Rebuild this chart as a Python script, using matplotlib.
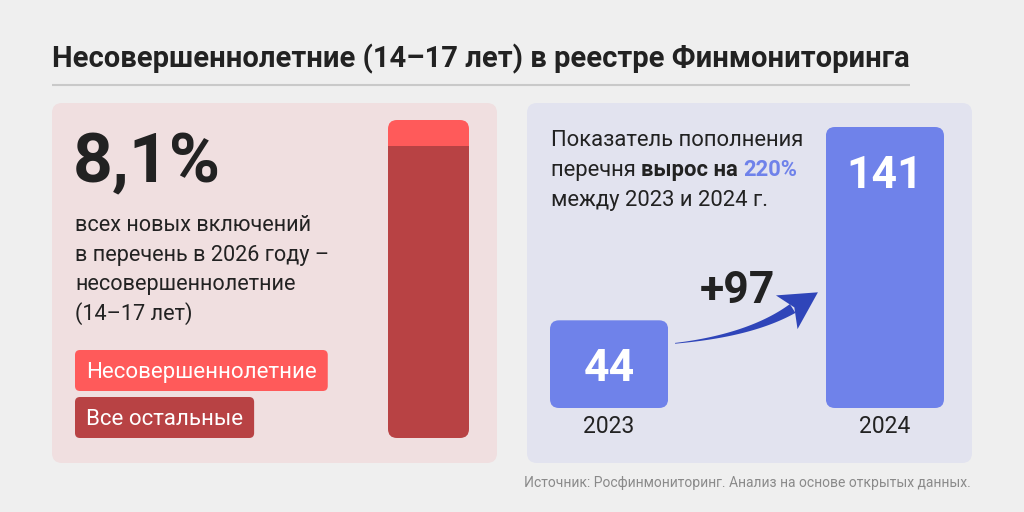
import numpy as np
import matplotlib.pyplot as plt
from matplotlib.patches import FancyBboxPatch, Polygon

plt.rcParams['font.family'] = ['Roboto', 'DejaVu Sans']

# data
title = 'Несовершеннолетние (14–17 лет) в реестре Финмониторинга'
share_labels = ['Несовершеннолетние', 'Все остальные']
share_values = [8.1, 91.9]
share_text = ['всех новых включений', 'в перечень в 2026 году –',
              'несовершеннолетние', '(14–17 лет)']
years = ['2023', '2024']
counts = [44, 141]
growth_pct = 220
source = 'Источник: Росфинмониторинг. Анализ на основе открытых данных.'

BG = '#efefef'
PINK_BG = '#f0dfe0'
BLUE_BG = '#e2e3ef'
RED_LIGHT = '#ff5a5a'
RED_DARK = '#b84244'
BLUE = '#6f82ea'
ARROW = '#2f45b9'
INK = '#222222'

W, H = 1024, 512
fig = plt.figure(figsize=(W / 100, H / 100), dpi=100, facecolor=BG)
ax = fig.add_axes([0, 0, 1, 1])
ax.set_xlim(0, W)
ax.set_ylim(H, 0)
ax.axis('off')
renderer = fig.canvas.get_renderer()


def px_axes(x0, y0, x1, y1):
    a = fig.add_axes([x0 / W, 1 - y1 / H, (x1 - x0) / W, (y1 - y0) / H])
    a.axis('off')
    return a


def rounded(a, x, y, w, h, r_px, **kw):
    # rounded box in data units of axes a, radius given in pixels
    bb = a.get_window_extent(renderer)
    x0, x1 = a.get_xlim()
    y0, y1 = a.get_ylim()
    ux = (x1 - x0) / bb.width
    uy = (y1 - y0) / bb.height
    return FancyBboxPatch((x, y), w, h,
                          boxstyle=f'round,pad=0,rounding_size={r_px * ux}',
                          mutation_aspect=uy / ux, transform=a.transData, **kw)


def to_px(a, x, y):
    return ax.transData.inverted().transform(a.transData.transform((x, y)))


def text_w(t):
    return t.get_window_extent(renderer).width


# title and rule
tt = ax.text(52, 67, title, fontsize=21, fontweight='bold', color=INK, va='baseline')
ax.plot([52, 52 + text_w(tt)], [84.5, 84.5], color='#c9c9c9', lw=1.5,
        solid_capstyle='butt')

# panels
ax.add_patch(FancyBboxPatch((52, 103), 445, 360, boxstyle='round,pad=0,rounding_size=10',
                            fc=PINK_BG, ec='none'))
ax.add_patch(FancyBboxPatch((527, 103), 445, 360, boxstyle='round,pad=0,rounding_size=10',
                            fc=BLUE_BG, ec='none'))

# left: stacked share bar
axl = px_axes(388, 120, 469, 438)
axl.set_xlim(-0.5, 0.5)
axl.set_ylim(0, 100)
clip = rounded(axl, -0.5, 0, 1, 100, 9, fc='none', ec='none')
b1 = axl.bar(0, share_values[1], width=1, color=RED_DARK)
b2 = axl.bar(0, share_values[0], width=1, bottom=share_values[1], color=RED_LIGHT)
for b in list(b1) + list(b2):
    b.set_clip_path(clip)

ax.text(73, 182, f'{share_values[0]:.1f}%'.replace('.', ','), fontsize=50,
        fontweight='bold', color=INK, va='baseline')
for i, line in enumerate(share_text):
    ax.text(75, 231 + 29.7 * i, line, fontsize=15.6, color=INK, va='baseline')

for i, (lab, col) in enumerate(zip(share_labels, [RED_LIGHT, RED_DARK])):
    top = 350 + 47 * i
    t = ax.text(86, top + 28, lab, fontsize=16, color='white', va='baseline', zorder=3)
    ax.add_patch(FancyBboxPatch((75, top), text_w(t) + 22, 41,
                                boxstyle='round,pad=0,rounding_size=5',
                                fc=col, ec='none', zorder=2))

# right: counts
axr = px_axes(550, 127, 944, 408)
axr.set_xlim(-0.214, 1.214)
axr.set_ylim(0, max(counts))
bars = axr.bar(range(len(counts)), counts, width=0.428, color=BLUE)
for b in bars:
    b.set_clip_path(rounded(axr, b.get_x(), 0, b.get_width(), b.get_height(), 9,
                            fc='none', ec='none'))
for i, (yr, v) in enumerate(zip(years, counts)):
    axr.annotate(str(v), (i, v), xytext=(0, -61), textcoords='offset pixels',
                 ha='center', va='baseline', fontsize=32, fontweight='bold',
                 color='white')
    axr.annotate(yr, (i, 0), xytext=(0, -25), textcoords='offset pixels',
                 ha='center', va='baseline', fontsize=16.5, color=INK)

# description with mixed styles
ax.text(551, 146, 'Показатель пополнения', fontsize=15.8, color=INK, va='baseline')
x = 551
for seg, wt, col in [('перечня ', 'normal', INK), ('вырос на ', 'bold', INK),
                     (f'{growth_pct}%', 'bold', BLUE)]:
    t = ax.text(x, 176, seg, fontsize=15.8, fontweight=wt, color=col, va='baseline')
    x += text_w(t)
ax.text(551, 206, f'между {years[0]} и {years[1]} г.', fontsize=15.8, color=INK,
        va='baseline')

# growth arrow from the 2023 bar to the 2024 bar
bw = bars[0].get_width()
tail = to_px(axr, bw / 2, counts[0]) + np.array([7, 23])
tip = to_px(axr, 1 - bw / 2, counts[0]) + np.array([-8, -28])
d = np.array([25.0, -16.0])
d /= np.linalg.norm(d)
base = tip - d * 30
ctrl = base - d * 50
t = np.linspace(0, 1, 60)[:, None]
pts = (1 - t) ** 2 * tail + 2 * (1 - t) * t * ctrl + t ** 2 * base
tang = np.gradient(pts, axis=0)
tang /= np.linalg.norm(tang, axis=1)[:, None]
nrm = np.stack([-tang[:, 1], tang[:, 0]], axis=1)
half = 0.4 + 4.8 * t[:, 0] ** 1.3
shaft = np.vstack([pts + nrm * half[:, None], (pts - nrm * half[:, None])[::-1]])
ax.add_patch(Polygon(shaft, closed=True, fc=ARROW, ec='none'))
n = np.array([-d[1], d[0]])
head = [tip, base - d * 7 + n * 20, base + d * 2, base - d * 7 - n * 20]
ax.add_patch(Polygon(head, closed=True, fc=ARROW, ec='none'))
ax.text(737, 303, f'+{counts[1] - counts[0]}', fontsize=32, fontweight='bold',
        color=INK, ha='center', va='baseline')

ax.text(971, 487, source, fontsize=10, color='#8a8a8a', ha='right', va='baseline')

fig.savefig('out.png', dpi=100, facecolor=BG)
